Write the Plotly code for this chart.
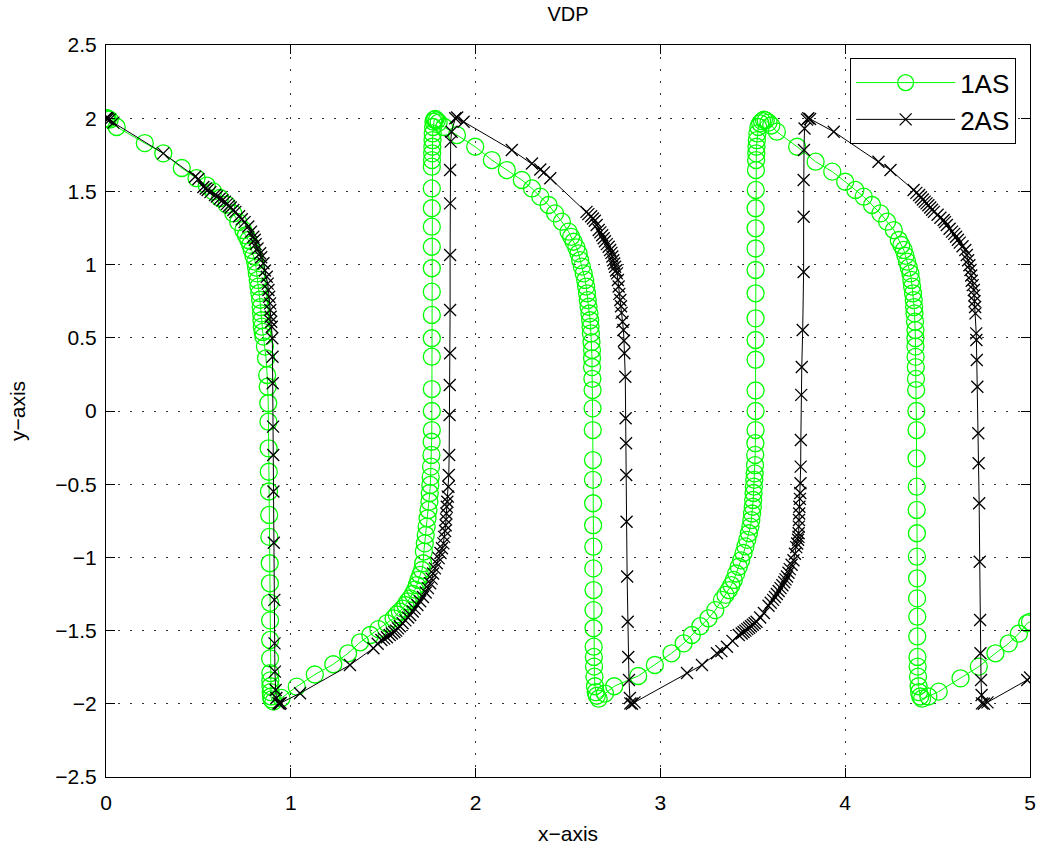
import plotly.graph_objects as go

# ================= Series "1AS" (green circles), read segment by segment =================
t_1as_a = [0.0, 0.005, 0.01, 0.02, 0.058, 0.21, 0.31, 0.41, 0.49, 0.545, 0.58, 0.617, 0.653, 0.689,
           0.716, 0.743, 0.757, 0.77, 0.78, 0.789, 0.798, 0.807, 0.812, 0.816, 0.821, 0.825, 0.83,
           0.834, 0.837, 0.839, 0.841, 0.843, 0.848, 0.852, 0.86, 0.866, 0.872, 0.875, 0.878, 0.879,
           0.88, 0.881, 0.882, 0.883, 0.884, 0.886, 0.887, 0.888, 0.888, 0.888, 0.888, 0.889, 0.889,
           0.89, 0.891, 0.893, 0.896, 0.906]
y_1as_a = [2.0, 2.0, 1.995, 1.99, 1.94, 1.83, 1.76, 1.66, 1.59, 1.54, 1.50, 1.455, 1.41, 1.35,
           1.29, 1.236, 1.20, 1.168, 1.135, 1.10, 1.06, 1.02, 0.98, 0.94, 0.895, 0.85, 0.805,
           0.76, 0.71, 0.667, 0.62, 0.576, 0.54, 0.508, 0.44, 0.36, 0.246, 0.166, 0.053, -0.073,
           -0.255, -0.415, -0.55, -0.71, -0.86, -1.04, -1.177, -1.31, -1.43, -1.564, -1.69, -1.79, -1.84,
           -1.88, -1.92, -1.95, -1.97, -1.985]

t_1as_b = [0.95, 1.032, 1.13, 1.23, 1.31, 1.375, 1.43, 1.474, 1.52, 1.556, 1.573, 1.59, 1.605, 1.62,
           1.633, 1.646, 1.66, 1.673, 1.682, 1.69, 1.70, 1.71, 1.716, 1.72, 1.725, 1.73, 1.735, 1.74,
           1.745, 1.75, 1.752, 1.755, 1.757, 1.759, 1.761, 1.762,
           1.763, 1.763, 1.763, 1.763, 1.763, 1.763, 1.763, 1.763, 1.763, 1.763, 1.763, 1.763, 1.763,
           1.764, 1.765, 1.766, 1.767, 1.768, 1.77, 1.772, 1.776, 1.782, 1.79, 1.80, 1.83]
y_1as_b = [-1.96, -1.883, -1.80, -1.73, -1.655, -1.58, -1.53, -1.49, -1.45, -1.416, -1.39, -1.37, -1.35, -1.325,
           -1.30, -1.28, -1.25, -1.22, -1.19, -1.154, -1.12, -1.086, -1.04, -0.96, -0.904, -0.847, -0.79, -0.733,
           -0.676, -0.62, -0.56, -0.505, -0.45, -0.38, -0.30, -0.21,
           -0.13, 0.0, 0.15, 0.371, 0.497, 0.656, 0.815, 0.975, 1.122, 1.259, 1.385, 1.52, 1.669,
           1.714, 1.76, 1.805, 1.85, 1.896, 1.94, 1.976, 1.99, 1.995, 1.985, 1.97, 1.94]

t_1as_c = [1.899, 1.998, 2.088, 2.169, 2.25, 2.305, 2.35, 2.395, 2.43, 2.467, 2.503, 2.517, 2.53, 2.545,
           2.557, 2.566, 2.575, 2.585, 2.593, 2.598, 2.603, 2.607, 2.611, 2.616, 2.62, 2.622, 2.624,
           2.627, 2.63, 2.63, 2.63, 2.632, 2.633, 2.633, 2.634, 2.635, 2.635, 2.636, 2.636, 2.637,
           2.637, 2.638, 2.638, 2.638, 2.639, 2.64, 2.641, 2.643, 2.646, 2.65, 2.656, 2.666]
y_1as_c = [1.885, 1.805, 1.714, 1.646, 1.578, 1.52, 1.464, 1.407, 1.35, 1.293, 1.225, 1.19, 1.156, 1.117,
           1.077, 1.03, 0.986, 0.94, 0.895, 0.85, 0.804, 0.758, 0.712, 0.666, 0.62, 0.575, 0.53,
           0.47, 0.417, 0.36, 0.30, 0.22, 0.143, 0.018, -0.13, -0.335, -0.47, -0.63, -0.78, -0.927,
           -1.075, -1.223, -1.36, -1.484, -1.61, -1.68, -1.746, -1.815, -1.88, -1.92, -1.945, -1.965]

t_1as_d = [2.70, 2.75, 2.88, 2.97, 3.06, 3.126, 3.17, 3.216, 3.26, 3.297, 3.333, 3.352, 3.37, 3.384,
           3.397, 3.41, 3.424, 3.437, 3.45, 3.46, 3.47, 3.479, 3.487, 3.492, 3.496, 3.50, 3.502, 3.504,
           3.506, 3.508, 3.51, 3.512, 3.513, 3.514,
           3.515, 3.515, 3.515, 3.515, 3.515, 3.515, 3.515, 3.515, 3.515, 3.515, 3.515,
           3.516, 3.517, 3.518, 3.519, 3.52, 3.522, 3.525, 3.53, 3.54, 3.55, 3.56, 3.57, 3.585, 3.60]
y_1as_d = [-1.93, -1.88, -1.81, -1.735, -1.655, -1.587, -1.53, -1.47, -1.416, -1.36, -1.29, -1.256, -1.223, -1.19,
           -1.154, -1.11, -1.064, -1.02, -0.97, -0.925, -0.88, -0.835, -0.79, -0.745, -0.70, -0.654, -0.608, -0.56,
           -0.517, -0.47, -0.426, -0.37, -0.30, -0.22,
           -0.13, 0.0, 0.14, 0.35, 0.485, 0.633, 0.804, 0.963, 1.11, 1.248, 1.385,
           1.51, 1.646, 1.714, 1.76, 1.805, 1.85, 1.896, 1.94, 1.965, 1.98, 1.99, 1.985, 1.97, 1.95]

t_1as_e = [3.63, 3.74, 3.84, 3.93, 4.0, 4.055, 4.10, 4.145, 4.19, 4.227, 4.263, 4.29, 4.304, 4.317,
           4.326, 4.335, 4.344, 4.353, 4.358, 4.362, 4.367, 4.371, 4.373, 4.375, 4.378, 4.38, 4.38,
           4.38, 4.381, 4.382, 4.383, 4.384, 4.385, 4.386, 4.386, 4.387, 4.387, 4.388, 4.388, 4.389,
           4.389, 4.39, 4.39, 4.391, 4.392, 4.394, 4.397, 4.40, 4.406, 4.416]
y_1as_e = [1.908, 1.805, 1.703, 1.635, 1.566, 1.51, 1.464, 1.407, 1.35, 1.293, 1.236, 1.168, 1.134, 1.10,
           1.06, 1.02, 0.98, 0.94, 0.895, 0.85, 0.804, 0.758, 0.71, 0.667, 0.61, 0.553, 0.497,
           0.44, 0.37, 0.30, 0.22, 0.143, 0.0, -0.13, -0.323, -0.517, -0.676, -0.835, -0.995, -1.143,
           -1.28, -1.405, -1.54, -1.68, -1.746, -1.815, -1.88, -1.92, -1.95, -1.965]

t_1as_f = [4.45, 4.506, 4.624, 4.723, 4.813, 4.885, 4.94, 4.985, 5.0]
y_1as_f = [-1.95, -1.917, -1.826, -1.746, -1.655, -1.587, -1.52, -1.45, -1.44]

# ================= Series "2AS" (black crosses) =================
t_2as_a = [0.0, 0.005, 0.01, 0.02, 0.04, 0.31, 0.482, 0.50, 0.527, 0.54, 0.55, 0.565, 0.59, 0.60,
           0.615, 0.63, 0.644, 0.655, 0.665, 0.675, 0.689, 0.70, 0.72, 0.735, 0.75, 0.77, 0.785,
           0.797, 0.805, 0.81, 0.82, 0.834, 0.84, 0.852, 0.86, 0.87, 0.875, 0.879, 0.883, 0.888,
           0.889, 0.891, 0.894, 0.897, 0.90, 0.901, 0.902, 0.904, 0.905, 0.906, 0.908, 0.911, 0.912,
           0.914, 0.918, 0.922, 0.933, 0.94, 0.945]
y_2as_a = [2.0, 2.0, 1.995, 1.99, 1.97, 1.76, 1.60, 1.585, 1.53, 1.52, 1.51, 1.495, 1.475, 1.465,
           1.45, 1.44, 1.43, 1.415, 1.40, 1.39, 1.373, 1.36, 1.33, 1.31, 1.29, 1.26, 1.225,
           1.19, 1.17, 1.14, 1.11, 1.077, 1.05, 1.009, 0.96, 0.917, 0.87, 0.826, 0.78, 0.735,
           0.69, 0.644, 0.61, 0.576, 0.497, 0.371, 0.19, -0.107, -0.30, -0.55, -0.90, -1.29, -1.587,
           -1.78, -1.906, -1.96, -1.997, -2.0, -1.995]

t_2as_b = [1.05, 1.32, 1.447, 1.47, 1.49, 1.505, 1.52, 1.535, 1.547, 1.56, 1.57, 1.58, 1.59, 1.605,
           1.62, 1.635, 1.646, 1.66, 1.67, 1.685, 1.70, 1.715, 1.73, 1.742, 1.754, 1.762, 1.77, 1.78,
           1.79, 1.80, 1.81, 1.818, 1.826, 1.83, 1.835, 1.838, 1.84, 1.842, 1.844, 1.847, 1.85, 1.853,
           1.855, 1.857, 1.859, 1.86, 1.862, 1.862, 1.862, 1.862, 1.862, 1.865, 1.87, 1.89, 1.90, 1.935]
y_2as_b = [-1.928, -1.735, -1.62, -1.59, -1.564, -1.555, -1.545, -1.53, -1.52, -1.51, -1.50, -1.485, -1.47, -1.45,
           -1.43, -1.41, -1.393, -1.37, -1.35, -1.325, -1.30, -1.27, -1.24, -1.21, -1.177, -1.145, -1.11, -1.075,
           -1.04, -1.005, -0.97, -0.937, -0.904, -0.86, -0.82, -0.78, -0.74, -0.70, -0.654, -0.62, -0.585, -0.517,
           -0.437, -0.30, -0.027, 0.178, 0.394, 0.69, 1.066, 1.418, 1.646, 1.84, 1.908, 2.0, 2.005, 1.976]

t_2as_c = [2.196, 2.305, 2.35, 2.37, 2.404, 2.60, 2.61, 2.625, 2.635, 2.645, 2.655, 2.666, 2.675, 2.685,
           2.693, 2.70, 2.71, 2.72, 2.728, 2.735, 2.74, 2.745, 2.75, 2.755, 2.76, 2.765, 2.77, 2.774,
           2.778, 2.783, 2.787, 2.79, 2.795, 2.80, 2.803, 2.805, 2.81, 2.812, 2.814, 2.815, 2.817, 2.82,
           2.823, 2.826, 2.83, 2.835, 2.837, 2.846, 2.86]
y_2as_c = [1.783, 1.69, 1.65, 1.63, 1.59, 1.36, 1.345, 1.33, 1.315, 1.30, 1.27, 1.236, 1.22, 1.20,
           1.18, 1.16, 1.14, 1.122, 1.10, 1.08, 1.055, 1.03, 1.008, 0.985, 0.96, 0.94, 0.895, 0.85,
           0.80, 0.758, 0.715, 0.67, 0.61, 0.553, 0.48, 0.394, 0.234, -0.05, -0.22, -0.437, -0.756, -1.13,
           -1.44, -1.68, -1.837, -1.96, -1.997, -2.0, -1.99]

t_2as_d = [3.144, 3.225, 3.306, 3.33, 3.36, 3.39, 3.424, 3.44, 3.45, 3.46, 3.47, 3.48, 3.49, 3.50,
           3.51, 3.52, 3.54, 3.56, 3.585, 3.597, 3.61, 3.62, 3.63, 3.64, 3.65, 3.66, 3.67, 3.677,
           3.685, 3.693, 3.70, 3.71, 3.72, 3.728, 3.735, 3.74, 3.745, 3.747, 3.748, 3.749, 3.75, 3.751,
           3.752, 3.755, 3.757, 3.758, 3.759, 3.76, 3.762, 3.765, 3.77, 3.775, 3.775, 3.775, 3.777, 3.78,
           3.793, 3.80, 3.81]
y_2as_d = [-1.79, -1.735, -1.655, -1.64, -1.61, -1.57, -1.53, -1.52, -1.51, -1.50, -1.49, -1.48, -1.47, -1.46,
           -1.45, -1.44, -1.41, -1.38, -1.33, -1.31, -1.29, -1.27, -1.25, -1.23, -1.21, -1.19, -1.17, -1.15,
           -1.13, -1.105, -1.08, -1.05, -1.02, -0.975, -0.93, -0.905, -0.88, -0.86, -0.835, -0.79, -0.745, -0.70,
           -0.654, -0.60, -0.56, -0.494, -0.38, -0.198, 0.11, 0.30, 0.553, 0.95, 1.327, 1.578, 1.783, 1.93,
           1.99, 2.0, 1.995]

t_2as_e = [3.938, 4.18, 4.245, 4.37, 4.385, 4.40, 4.41, 4.42, 4.43, 4.44, 4.45, 4.46, 4.47, 4.48,
           4.50, 4.515, 4.533, 4.54, 4.55, 4.565, 4.578, 4.59, 4.60, 4.61, 4.62, 4.635, 4.65, 4.658,
           4.665, 4.672, 4.678, 4.682, 4.685, 4.69, 4.696, 4.698, 4.70, 4.703, 4.705, 4.709, 4.71, 4.712,
           4.715, 4.72, 4.722, 4.725, 4.728, 4.73, 4.732, 4.735, 4.738, 4.74, 4.75, 4.77]
y_2as_e = [1.908, 1.703, 1.646, 1.51, 1.49, 1.475, 1.46, 1.445, 1.43, 1.418, 1.405, 1.39, 1.375, 1.36,
           1.34, 1.32, 1.305, 1.29, 1.27, 1.245, 1.225, 1.21, 1.19, 1.17, 1.15, 1.125, 1.10, 1.065,
           1.03, 0.995, 0.963, 0.925, 0.89, 0.86, 0.826, 0.79, 0.75, 0.71, 0.667, 0.53, 0.485, 0.348,
           0.166, -0.152, -0.357, -0.63, -1.03, -1.428, -1.655, -1.837, -1.94, -1.997, -2.0, -1.99]

t_2as_f = [4.985, 5.0]
y_2as_f = [-1.837, -1.82]

x_ticks = [0, 1, 2, 3, 4, 5]
y_ticks = [2.5, 2, 1.5, 1, 0.5, 0, -0.5, -1, -1.5, -2, -2.5]

for a, b in [(t_1as_a, y_1as_a), (t_1as_b, y_1as_b), (t_1as_c, y_1as_c), (t_1as_d, y_1as_d),
             (t_1as_e, y_1as_e), (t_1as_f, y_1as_f), (t_2as_a, y_2as_a), (t_2as_b, y_2as_b),
             (t_2as_c, y_2as_c), (t_2as_d, y_2as_d), (t_2as_e, y_2as_e), (t_2as_f, y_2as_f)]:
    assert len(a) == len(b), (len(a), len(b), a[0])

t_1as = t_1as_a + t_1as_b + t_1as_c + t_1as_d + t_1as_e + t_1as_f
y_1as = y_1as_a + y_1as_b + y_1as_c + y_1as_d + y_1as_e + y_1as_f
t_2as = t_2as_a + t_2as_b + t_2as_c + t_2as_d + t_2as_e + t_2as_f
y_2as = y_2as_a + y_2as_b + y_2as_c + y_2as_d + y_2as_e + y_2as_f

FONT = "Liberation Sans, Arial, Helvetica, sans-serif"

fig = go.Figure()
fig.add_trace(go.Scatter(
    x=t_1as, y=y_1as, name="1AS", mode="lines+markers",
    line=dict(color="#00ff00", width=1),
    marker=dict(symbol="circle-open", size=17, color="#00ff00", line=dict(width=1.3, color="#00ff00")),
))
fig.add_trace(go.Scatter(
    x=t_2as, y=y_2as, name="2AS", mode="lines+markers",
    line=dict(color="black", width=1),
    marker=dict(symbol="x-thin-open", size=12, color="black", line=dict(width=1.3, color="black")),
))

axis_common = dict(
    showline=True, linecolor="black", linewidth=1, mirror="ticks",
    ticks="inside", ticklen=9, tickwidth=1, tickcolor="black",
    showgrid=True, gridcolor="#333333", gridwidth=1, griddash="1.5px,10.5px",
    zeroline=False, tickfont=dict(family=FONT, size=21, color="black"),
)

fig.update_layout(
    width=1054, height=853,
    margin=dict(l=106, r=24, t=45, b=76, pad=0),
    paper_bgcolor="white", plot_bgcolor="white",
    font=dict(family=FONT, size=20, color="black"),
    title=dict(text="VDP", x=0.5, xref="paper", xanchor="center",
               y=1 - 14 / 853, yanchor="middle",
               font=dict(family=FONT, size=20, color="black")),
    xaxis=dict(range=[0, 5], tickvals=x_ticks, ticklabelstandoff=7, **axis_common),
    yaxis=dict(range=[-2.5, 2.5], tickvals=y_ticks, ticklabelstandoff=4, **axis_common),
    legend=dict(x=0.985, xanchor="right", y=0.982, yanchor="top",
                bgcolor="white", bordercolor="black", borderwidth=1,
                font=dict(family=FONT, size=26, color="black"), itemwidth=99,
                tracegroupgap=0),
    showlegend=True,
    annotations=[
        dict(text="x\u2212axis", xref="paper", yref="paper", x=0.5, y=0, xanchor="center",
             yanchor="middle", yshift=-56, showarrow=False, font=dict(family=FONT, size=21)),
        dict(text="y\u2212axis", xref="paper", yref="paper", x=0, y=0.5, xanchor="center",
             yanchor="middle", xshift=-89, textangle=-90, showarrow=False,
             font=dict(family=FONT, size=21)),
    ],
)

fig.write_html("out.html", config={"displayModeBar": False},
               post_script="document.body.style.margin='0';")
